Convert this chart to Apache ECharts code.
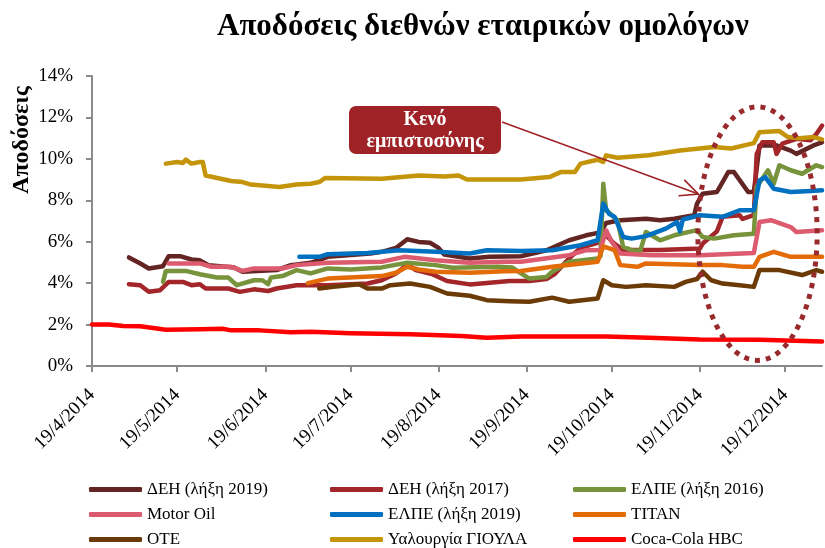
<!DOCTYPE html>
<html>
<head>
<meta charset="utf-8">
<script src="https://cdn.jsdelivr.net/npm/echarts@6/dist/echarts.min.js"></script>
<style>
html,body{margin:0;padding:0;background:#fff;}
#chart{width:825px;height:548px;}
</style>
</head>
<body>
<div id="chart"></div>
<script>
// ---- data (x = days since 19/4/2014, y = yield %) ----
const startDate = '19/4/2014';
const endDate = '1/1/2015';
const xTickLabels = ['19/4/2014','19/5/2014','19/6/2014','19/7/2014','19/8/2014','19/9/2014','19/10/2014','19/11/2014','19/12/2014'];
const yTickValues = [0, 2, 4, 6, 8, 10, 12, 14];

const seriesNames = ['ΔΕΗ (λήξη 2019)','ΔΕΗ (λήξη 2017)','ΕΛΠΕ (λήξη 2016)','Motor Oil','ΕΛΠΕ (λήξη 2019)','TITAN','ΟΤΕ','Υαλουργία ΓΙΟΥΛΑ','Coca-Cola HBC'];

const deh2019 = [[13,5.24],[17,4.95],[20,4.71],[25,4.82],[27,5.3],[31,5.3],[35,5.14],[38,5.1],[41,4.87],[50,4.76],[53,4.55],[65,4.63],[70,4.87],[77,4.98],[83,5.27],[98,5.43],[102,5.51],[107,5.7],[111,6.12],[115,5.99],[119,5.95],[122,5.7],[124,5.38],[133,5.19],[140,5.27],[151,5.3],[160,5.59],[168,6.07],[174,6.31],[179,6.45],[181,6.9],[186,7.04],[195,7.11],[200,7.04],[205,7.11],[212,7.28],[213,7.84],[215,8.32],[220,8.4],[224,9.36],[226,9.36],[231,8.4],[233,8.4],[235,10.65],[241,10.65],[246,10.4],[248,10.24],[254,10.65],[257,10.8]];
const deh2017 = [[13,3.95],[17,3.9],[20,3.58],[24,3.66],[27,4.06],[32,4.06],[35,3.9],[38,3.95],[40,3.74],[48,3.74],[52,3.58],[57,3.7],[62,3.62],[65,3.74],[72,3.9],[83,3.9],[97,3.98],[102,4.14],[107,4.47],[111,4.9],[114,4.63],[120,4.42],[125,4.1],[133,3.94],[143,4.06],[147,4.1],[154,4.1],[160,4.2],[163,4.45],[168,5.2],[172,5.7],[178,5.95],[181,6.3],[184,5.9],[187,5.6],[200,5.6],[214,5.67],[215,5.91],[220,6.5],[222,7.2],[228,7.28],[229,7.1],[233,7.28],[234,10.24],[236,10.8],[240,10.8],[241,10.24],[243,10.73],[248,10.97],[253,10.9],[255,11.2],[257,11.6]];
const elpe2016 = [[25,4.06],[26,4.59],[33,4.59],[38,4.43],[44,4.27],[48,4.27],[51,3.9],[57,4.14],[60,4.14],[62,3.95],[63,4.27],[67,4.34],[72,4.63],[77,4.47],[83,4.71],[91,4.66],[102,4.76],[111,4.99],[121,4.87],[127,4.74],[143,4.79],[148,4.75],[152,4.39],[154,4.22],[160,4.3],[162,4.55],[168,5.03],[178,5.19],[179,5.3],[180,8.8],[181,7.52],[185,7.04],[187,5.75],[190,5.59],[193,5.55],[195,6.47],[198,6.23],[200,6.07],[205,6.31],[211,6.5],[213,6.55],[215,6.23],[219,6.15],[226,6.31],[233,6.39],[234,8.64],[238,9.45],[240,8.8],[242,9.69],[246,9.45],[250,9.28],[255,9.69],[257,9.6]];
const motorOil = [[27,4.95],[38,4.95],[42,4.79],[49,4.79],[53,4.59],[57,4.71],[67,4.71],[72,4.87],[83,4.98],[102,5.03],[110,5.27],[121,5.1],[133,4.99],[145,5.03],[151,5.03],[168,5.35],[174,5.59],[179,5.6],[181,6.55],[183,5.99],[186,5.43],[197,5.35],[214,5.35],[233,5.45],[235,6.95],[239,7.04],[246,6.71],[248,6.47],[257,6.55]];
const elpe2019 = [[73,5.27],[80,5.27],[83,5.4],[97,5.46],[108,5.59],[121,5.51],[133,5.43],[139,5.59],[151,5.55],[162,5.59],[172,5.83],[178,6.07],[180,7.84],[182,7.35],[184,7.2],[187,6.23],[190,6.15],[195,6.27],[202,6.63],[206,6.95],[207,6.5],[208,7.07],[214,7.28],[222,7.2],[228,7.52],[233,7.52],[235,8.96],[237,9.12],[240,8.56],[246,8.4],[253,8.45],[257,8.48]];
const titan = [[76,4.0],[83,4.22],[102,4.34],[107,4.5],[111,4.79],[115,4.66],[121,4.55],[133,4.5],[145,4.58],[151,4.59],[162,4.79],[178,5.03],[180,5.78],[184,5.59],[186,4.87],[192,4.79],[195,4.95],[214,4.87],[222,4.87],[229,4.79],[233,4.79],[235,5.27],[240,5.51],[246,5.27],[257,5.27]];
const ote = [[80,3.74],[85,3.82],[94,3.95],[97,3.74],[102,3.74],[105,3.9],[112,3.98],[119,3.82],[125,3.5],[133,3.39],[139,3.18],[147,3.13],[154,3.1],[162,3.3],[168,3.1],[178,3.26],[180,4.14],[183,3.9],[188,3.82],[195,3.9],[205,3.82],[209,4.06],[213,4.2],[215,4.55],[218,4.14],[222,3.98],[228,3.9],[233,3.82],[235,4.63],[242,4.63],[250,4.39],[255,4.63],[257,4.55]];
const gioula = [[26,9.77],[30,9.85],[32,9.8],[33,9.96],[35,9.77],[38,9.85],[39,9.85],[40,9.2],[49,8.93],[53,8.88],[56,8.76],[66,8.64],[72,8.76],[77,8.8],[80,8.88],[82,9.07],[102,9.04],[115,9.2],[124,9.15],[129,9.2],[132,9.0],[151,9.0],[161,9.12],[165,9.36],[170,9.36],[172,9.77],[178,9.96],[180,9.85],[181,10.17],[185,10.05],[196,10.17],[207,10.4],[219,10.57],[225,10.5],[233,10.76],[235,11.29],[242,11.34],[245,11.05],[249,11.0],[254,11.05],[257,10.94]];
const cocaCola = [[0,2.0],[6,2.0],[11,1.93],[17,1.92],[26,1.75],[38,1.78],[46,1.8],[49,1.72],[59,1.72],[70,1.63],[77,1.65],[91,1.58],[112,1.53],[120,1.5],[130,1.45],[139,1.36],[151,1.43],[165,1.42],[181,1.43],[196,1.36],[214,1.28],[235,1.27],[257,1.18]];

// annotation anchors in data coordinates (days, %)
const calloutText = ['Κενό', 'εμπιστοσύνης'];
const arrowTarget = [213.5, 8.3];
const ellipseCenter = [234.3, 6.39];
const ellipseRadius = [21, 6.12];

// ---- helpers ----
const DAY = 86400000;
function parseDMY(s){ const p = s.split('/').map(Number); return Date.UTC(p[2], p[1]-1, p[0]); }
const START = parseDMY(startDate);
const END = parseDMY(endDate);
const toTs = d => START + d * DAY;
const tickValues = xTickLabels.map(parseDMY);
function fmtDate(v){ const d = new Date(v); return d.getUTCDate() + '/' + (d.getUTCMonth()+1) + '/' + d.getUTCFullYear(); }

const colors = ['#632523','#A3262A','#77933C','#DC5B6F','#0070C0','#E36C09','#6B3A06','#C4950A','#FF0000'];
const seriesData = [deh2019, deh2017, elpe2016, motorOil, elpe2019, titan, ote, gioula, cocaCola];

const SERIF = '"Liberation Serif","Times New Roman",serif';
const axisColor = '#8a8a8a';

const chart = echarts.init(document.getElementById('chart'), null, {renderer:'canvas'});

function legendCol(left, names){
  return {
    orient: 'vertical', left: left, top: 481, height: 90, padding: 0,
    itemWidth: 53, itemHeight: 5, itemGap: 8, icon: 'roundRect',
    textStyle: {fontFamily: SERIF, fontSize: 17, color: '#000', lineHeight: 17},
    data: names
  };
}

const option = {
  animation: false,
  backgroundColor: '#fff',
  color: colors,
  title: {
    text: 'Αποδόσεις διεθνών εταιρικών ομολόγων',
    left: 212, top: 6,
    textStyle: {fontFamily: SERIF, fontSize: 31, fontWeight: 'bold', color: '#000'}
  },
  grid: {left: 92, right: 3, top: 76, bottom: 182, containLabel: false},
  legend: [
    legendCol(89, [seriesNames[0], seriesNames[3], seriesNames[6]]),
    legendCol(330, [seriesNames[1], seriesNames[4], seriesNames[7]]),
    legendCol(573, [seriesNames[2], seriesNames[5], seriesNames[8]])
  ],
  xAxis: {
    type: 'value', min: START, max: END,
    axisLine: {show: true, lineStyle: {color: axisColor, width: 2}},
    axisTick: {show: true, customValues: tickValues, length: 6, lineStyle: {color: axisColor, width: 2}},
    axisLabel: {
      customValues: tickValues, rotate: 45, margin: 26,
      formatter: v => fmtDate(v),
      fontFamily: SERIF, fontSize: 19, color: '#000'
    },
    splitLine: {show: false}
  },
  yAxis: {
    type: 'value', min: 0, max: 14, interval: 2,
    axisLine: {show: true, lineStyle: {color: axisColor, width: 2}},
    axisTick: {show: true, length: 6, lineStyle: {color: axisColor, width: 2}},
    axisLabel: {
      formatter: v => v + '%', margin: 19,
      fontFamily: SERIF, fontSize: 19, color: '#000'
    },
    splitLine: {show: false}
  },
  series: seriesNames.map((n, i) => ({
    name: n, type: 'line', showSymbol: false, symbol: 'none',
    data: seriesData[i].map(p => [toTs(p[0]), p[1]]),
    lineStyle: {width: 4.5, color: colors[i], cap: 'round', join: 'round'},
    itemStyle: {color: colors[i]},
    z: 2
  }))
};
chart.setOption(option);

// ---- annotations placed through the axes' own scales ----
const px = (d, v) => chart.convertToPixel({gridIndex: 0}, [toTs(d), v]);
const c = px(ellipseCenter[0], ellipseCenter[1]);
const e = px(ellipseCenter[0] + ellipseRadius[0], ellipseCenter[1] - ellipseRadius[1]);
const rx = e[0] - c[0], ry = e[1] - c[1];
const tip = px(arrowTarget[0], arrowTarget[1]);
const boxX = 349, boxY = 106, boxW = 152, boxH = 48;
const start = [boxX + boxW + 1, boxY + 16];
const ang = Math.atan2(tip[1] - start[1], tip[0] - start[0]);
const wl = 20, wa = 25 * Math.PI / 180;
const w1 = [tip[0] - wl * Math.cos(ang - wa), tip[1] - wl * Math.sin(ang - wa)];
const w2 = [tip[0] - wl * Math.cos(ang + wa), tip[1] - wl * Math.sin(ang + wa)];
const annColor = '#9E2226';

chart.setOption({
  graphic: [
    {type: 'text', x: 22, y: 140, rotation: Math.PI / 2, z: 10,
     style: {text: 'Αποδόσεις', font: 'bold 24px ' + SERIF, fill: '#000', align: 'center', verticalAlign: 'middle'}},
    {type: 'ellipse', z: 20, shape: {cx: c[0], cy: c[1], rx: rx, ry: ry},
     style: {fill: 'none', stroke: '#982A2D', lineWidth: 5, lineDash: [5, 6], lineCap: 'butt'}},
    {type: 'line', z: 20, shape: {x1: start[0], y1: start[1], x2: tip[0], y2: tip[1]},
     style: {stroke: annColor, lineWidth: 1.6}},
    {type: 'polyline', z: 20, shape: {points: [w1, tip, w2]},
     style: {stroke: annColor, lineWidth: 1.6, fill: 'none'}},
    {type: 'rect', z: 20, shape: {x: boxX, y: boxY, width: boxW, height: boxH, r: 7},
     style: {fill: annColor}},
    {type: 'text', z: 21, x: boxX + boxW / 2, y: boxY + boxH / 2 + 1,
     style: {text: calloutText.join('\n'), font: 'bold 20px ' + SERIF, fill: '#fff',
             align: 'center', verticalAlign: 'middle', lineHeight: 22}}
  ]
});
</script>
</body>
</html>
